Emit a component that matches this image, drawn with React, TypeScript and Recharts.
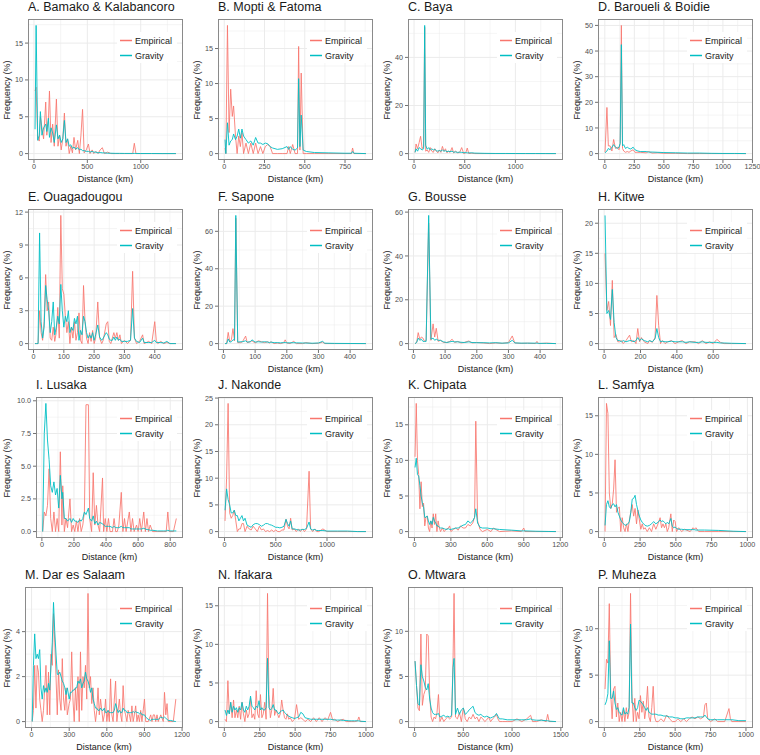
import { LineChart, Line, XAxis, YAxis, CartesianGrid } from "recharts";

// ---- data: distance bins (km) and frequency (%) per site ----
const bamakoKm = [10,20,35,50,60,75,90,110,120,135,145,160,175,190,210,225,240,255,270,285,300,315,330,345,360,375,390,410,425,440,455,470,490,510,525,545,560,580,600,620,640,660,690,720,760,800,850,900,925,940,955,1000,1100,1200,1330];
const bamakoEmp = [8.5,9.0,2.0,1.7,5.0,3.5,2.0,7.0,2.5,4.5,8.5,1.5,4.0,1.0,7.4,1.0,2.5,0.5,2.0,5.5,1.0,2.0,0.0,1.0,0.1,2.2,0.5,1.8,0.0,2.5,6.0,0.1,0.5,1.3,0.0,0.5,0.0,0.3,0.0,0.5,0.8,0.0,0.2,0.0,0.0,0.0,0.0,0.0,0.0,1.4,0.0,0.0,0.0,0.0,0.0];
const bamakoGrav = [3.3,17.4,1.8,2.5,5.7,2.5,3.5,4.0,3.0,4.8,2.2,3.5,2.8,1.5,3.9,2.0,2.5,1.5,2.0,4.5,1.5,2.0,1.0,1.2,0.7,0.9,0.6,0.8,0.5,0.6,0.4,0.4,0.3,0.3,0.2,0.3,0.2,0.2,0.1,0.15,0.1,0.1,0.05,0.05,0.03,0.03,0.02,0.02,0.02,0.02,0.02,0.01,0.01,0.0,0.0];

const moptiKm = [5,10,20,30,40,50,58,70,80,90,100,110,120,135,150,165,180,195,210,225,240,255,270,285,300,330,360,390,400,410,425,440,455,462,470,478,490,510,560,650,750,790,797,805,880];
const moptiEmp = [0.8,0.0,18.3,3.0,9.2,5.3,6.8,2.5,0.0,2.5,1.0,3.0,0.0,1.5,0.0,1.5,0.0,1.5,0.0,1.0,0.0,1.0,1.3,1.0,0.0,0.0,0.0,0.0,1.0,0.0,1.3,0.0,0.0,15.3,0.5,11.5,0.0,0.0,0.0,0.0,0.0,0.0,0.8,0.0,0.0];
const moptiGrav = [2.0,0.0,4.4,1.2,1.8,2.0,2.8,2.0,2.5,3.5,2.2,3.5,2.5,2.0,1.5,1.8,1.2,2.3,1.5,1.5,1.3,1.5,1.4,1.0,0.8,0.6,0.7,1.0,0.6,1.0,0.6,0.5,0.8,10.7,1.0,5.5,0.5,0.3,0.15,0.1,0.05,0.05,0.3,0.05,0.0];

const bayaKm = [10,20,35,50,65,80,95,105,115,130,145,160,175,190,205,220,235,250,265,280,295,310,325,340,355,375,390,410,430,450,470,490,510,525,540,570,600,700,800,900,1000,1100,1200,1300,1400];
const bayaEmp = [0.5,4.0,2.0,4.5,7.2,2.0,3.0,52.5,1.0,1.5,0.5,2.5,1.0,0.5,2.0,1.0,0.3,1.5,0.5,3.0,1.0,2.0,0.3,1.0,0.5,2.5,0.3,1.0,0.3,0.5,2.5,0.0,0.3,2.3,0.0,0.2,0.0,0.0,0.0,0.0,0.0,0.0,0.0,0.0,0.0];
const bayaGrav = [0.5,2.0,1.0,2.5,2.0,1.5,2.0,53.3,3.5,1.8,2.5,1.5,2.0,1.5,1.8,1.2,1.0,1.3,1.0,1.5,1.0,1.2,0.8,1.0,0.8,1.0,0.6,0.7,0.5,0.6,0.5,0.4,0.4,0.3,0.3,0.3,0.2,0.1,0.05,0.05,0.03,0.02,0.02,0.01,0.0];

const baroueliKm = [2,18,30,45,60,75,90,105,120,130,140,150,160,175,190,205,220,240,255,280,300,350,370,400,450,500,600,700,800,900,1000,1100,1195];
const baroueliEmp = [0.5,18.0,3.0,3.0,1.0,5.5,2.0,2.5,1.5,4.0,50.0,2.0,1.0,0.5,0.8,0.5,1.0,1.5,0.5,0.5,0.5,0.3,0.8,0.2,0.3,0.1,0.1,0.0,0.0,0.0,0.0,0.0,0.0];
const baroueliGrav = [0.3,1.0,2.0,1.5,2.5,3.5,2.5,2.0,2.5,4.0,42.5,3.0,3.5,2.0,2.5,2.0,1.8,2.5,1.5,1.0,0.8,0.8,0.6,0.6,0.5,0.4,0.3,0.2,0.2,0.1,0.05,0.05,0.0];

const ouagaKm = [5,10,15,20,25,30,35,40,45,50,55,60,65,70,75,80,85,90,95,100,105,110,115,120,125,130,135,140,145,150,155,160,165,170,175,180,185,190,195,200,205,212,218,225,230,240,245,250,255,260,265,270,275,280,285,290,300,310,320,327,333,340,350,360,365,380,390,400,405,410,420,430,440,450,470];
const ouagaEmp = [0.0,0.0,0.0,3.0,1.0,0.3,2.0,6.3,3.0,3.8,0.5,0.3,1.5,0.2,1.0,3.3,0.5,11.7,5.0,4.5,2.5,1.0,2.0,0.0,1.5,0.5,2.0,0.3,1.0,2.8,0.3,0.0,5.3,2.0,0.5,0.0,1.0,0.2,1.2,0.0,0.5,3.8,0.5,0.0,0.3,1.8,2.0,0.2,0.0,0.5,1.0,0.5,1.0,0.3,0.8,0.0,0.3,0.0,0.3,6.6,0.5,0.0,0.2,0.8,0.0,0.2,0.0,2.0,0.3,0.0,0.2,0.0,0.1,0.0,0.0];
const ouagaGrav = [0.0,0.0,0.0,10.1,2.0,0.5,1.5,5.3,4.0,3.0,1.0,2.0,3.8,0.8,1.5,2.5,1.8,5.4,3.0,1.5,2.5,2.0,3.0,1.0,1.5,1.2,2.3,1.8,2.5,0.3,1.2,0.8,2.5,2.0,1.0,0.5,0.8,0.5,1.0,0.3,0.8,1.7,0.6,0.3,0.5,1.0,0.8,0.4,0.3,0.3,0.6,0.3,0.6,0.3,0.4,0.2,0.2,0.2,0.3,3.2,0.5,0.2,0.1,0.5,0.1,0.1,0.1,0.3,0.1,0.1,0.1,0.05,0.2,0.0,0.0];

const saponeKm = [5,10,15,20,25,30,35,39,45,55,60,70,75,85,90,100,110,120,130,140,145,150,160,170,180,190,195,200,210,222,230,250,260,280,300,313,320,350,400,450];
const saponeEmp = [0,0,6.0,1.0,2.0,8.0,1.5,67,0.5,0.5,1.0,4.0,0.5,1.0,1.5,0.3,1.5,1.0,0.5,1.0,0.3,1.0,0.0,0.3,0.0,0.5,2.0,0.3,0.0,1.2,0.0,0.0,0.5,0.0,0.2,0.8,0.0,0.0,0.0,0.0];
const saponeGrav = [0,0,2.5,0.8,1.0,2.0,2.0,68.5,0.8,1.0,1.0,1.5,0.8,1.0,2.0,0.8,1.0,0.8,1.0,0.8,0.6,0.8,0.5,0.5,0.4,0.5,0.6,0.4,0.4,0.5,0.4,0.3,0.3,0.2,0.3,1.2,0.2,0.1,0.05,0.0];

const bousseKm = [5,10,15,20,25,30,35,40,48,55,62,67,72,78,85,95,105,115,122,130,140,150,160,175,185,200,220,240,260,280,300,312,320,340,360,385,390,395,420,450];
const bousseEmp = [0,0.5,5.0,2.0,3.0,2.5,1.0,1.5,55,1.5,9.0,3.0,7.0,1.0,1.5,0.5,0.5,1.0,2.0,0.5,1.0,0.3,0.5,1.2,0.3,0.5,0.3,0.0,0.3,0.1,0.5,3.5,0.3,0.1,0.2,0.0,1.0,0.0,0.2,0.0];
const bousseGrav = [0,0.5,2.5,1.5,2.0,1.0,1.0,1.0,58.5,2.0,2.5,1.5,2.0,1.5,1.5,0.8,0.5,0.8,1.0,0.8,0.8,0.6,0.5,0.8,0.5,0.4,0.4,0.3,0.4,0.2,0.3,1.5,0.3,0.2,0.2,0.2,0.2,0.1,0.1,0.0];

const kitweKm = [5,15,25,35,45,55,65,75,85,95,105,120,140,150,165,175,185,195,205,220,240,250,265,280,290,300,310,320,335,350,370,390,410,430,450,470,500,520,540,560,580,600,620,640,660,700,780];
const kitweEmp = [15.0,5.5,7.0,3.0,10.5,1.0,1.5,0.3,0.3,0.5,0.0,0.5,1.4,0.3,0.5,0.0,2.5,0.3,1.0,0.3,0.0,0.5,0.2,1.0,8.0,3.0,0.0,0.5,0.0,0.3,0.5,0.0,0.3,0.5,0.0,0.3,0.3,0.0,0.5,0.0,0.3,0.0,0.7,0.2,0.0,0.0,0.0];
const kitweGrav = [21.3,5.0,5.5,4.0,9.0,3.5,1.0,0.5,0.5,0.3,0.5,0.3,0.5,0.5,0.3,0.5,1.0,0.5,0.8,0.5,0.3,0.5,0.3,0.8,2.5,1.0,0.3,0.4,0.3,0.3,0.4,0.3,0.3,0.3,0.2,0.3,0.2,0.2,0.3,0.2,0.2,0.2,0.2,0.1,0.1,0.05,0.0];

const lusakaKm = [5,15,25,35,45,55,65,75,85,95,105,115,125,130,140,150,160,175,185,195,205,215,225,235,245,255,265,275,290,298,310,320,330,340,350,360,378,385,395,405,415,425,440,450,460,470,480,495,505,515,525,545,555,565,575,590,600,610,620,635,645,655,665,675,690,720,760,775,785,795,820,838];
const lusakaEmp = [0.0,1.5,1.2,2.0,4.8,1.0,0.0,1.5,0.0,1.0,0.0,6.1,0.5,3.5,0.0,1.0,0.3,2.5,0.0,0.5,0.0,0.8,0.0,1.0,0.0,0.5,1.5,9.7,9.7,1.0,0.0,4.5,0.5,2.0,0.5,0.0,4.1,0.0,1.0,0.0,1.0,0.0,0.0,1.0,0.0,0.0,0.5,3.0,0.0,1.0,0.0,1.5,0.0,1.0,0.0,0.5,0.0,1.0,0.0,1.5,0.0,1.0,0.0,0.5,0.0,0.0,0.0,0.0,1.5,0.0,0.0,1.0];
const lusakaGrav = [0.0,7.5,9.8,7.0,5.5,3.5,3.0,3.8,2.8,3.3,1.8,4.3,2.5,3.0,1.0,1.0,0.8,1.0,0.7,1.0,0.8,0.8,0.7,0.9,0.8,1.0,1.5,1.3,1.8,1.0,0.8,1.2,0.6,0.8,0.5,0.7,0.6,0.5,0.4,0.4,0.4,0.4,0.3,0.4,0.3,0.3,0.3,0.4,0.3,0.3,0.3,0.3,0.2,0.2,0.2,0.2,0.2,0.2,0.2,0.25,0.2,0.15,0.15,0.1,0.1,0.05,0.05,0.05,0.1,0.05,0.05,0.05];

const nakondeKm = [5,20,35,50,65,80,95,110,125,140,155,170,185,200,220,240,260,280,300,320,340,360,380,400,420,440,460,480,500,520,540,560,580,600,615,630,645,660,680,700,720,740,760,780,800,825,840,860,880,900,920,960,1000,1100,1200,1300,1380];
const nakondeEmp = [2.0,10.0,24.0,3.5,2.5,3.0,4.0,2.0,0.0,0.5,0.5,1.5,1.5,0.0,1.0,0.5,0.3,1.0,0.5,0.0,1.0,0.3,0.5,0.0,0.2,0.0,0.3,0.0,0.3,0.0,0.0,0.3,0.3,2.3,1.0,0.5,2.5,0.3,0.5,0.0,0.5,0.0,0.5,0.0,0.5,11.3,0.5,0.0,0.5,0.0,0.0,0.5,0.0,0.0,0.0,0.0,0.0];
const nakondeGrav = [4.0,8.0,6.0,5.0,3.5,3.5,4.0,3.0,3.0,2.0,2.5,3.0,2.0,2.5,1.2,1.0,0.8,1.3,1.5,1.5,1.3,1.0,1.2,1.5,1.5,1.3,1.2,1.0,0.8,0.8,0.7,0.8,1.0,2.3,1.5,1.0,2.0,0.5,0.5,0.4,0.3,0.3,0.4,0.4,0.6,1.8,0.5,0.3,0.4,0.2,0.2,0.2,0.1,0.1,0.1,0.0,0.0];

const chipataKm = [5,15,25,35,45,55,65,75,85,95,105,115,125,135,145,155,165,175,185,195,205,215,230,245,260,280,290,300,320,340,360,380,400,420,440,460,480,495,505,520,540,560,600,630,650,700,800,880,900,910,1000,1100,1165];
const chipataEmp = [10.5,18.0,10.0,8.0,3.2,7.0,3.5,4.0,0.8,2.0,2.2,0.5,0.0,1.5,0.5,2.5,1.0,2.5,0.0,1.5,0.5,0.0,0.5,0.0,0.3,0.5,0.8,0.0,0.3,0.5,0.2,0.8,0.5,0.5,1.0,0.8,1.2,2.0,15.5,1.5,0.3,0.0,0.3,0.0,0.5,0.0,0.1,0.0,0.5,0.0,0.0,0.0,0.0];
const chipataGrav = [9.0,10.3,8.0,7.8,6.5,5.0,4.0,3.5,2.0,2.0,2.2,1.5,1.0,1.5,1.0,2.0,1.5,1.2,0.8,0.8,0.6,0.5,0.5,0.4,0.3,0.4,0.3,0.3,0.4,0.5,0.5,0.7,0.9,1.0,1.5,1.2,1.5,2.0,3.2,1.2,0.6,0.5,0.5,0.4,0.4,0.3,0.2,0.1,0.1,0.1,0.05,0.02,0.0];

const samfyaKm = [5,15,25,35,45,55,65,75,85,95,105,115,125,135,145,155,165,175,185,195,205,215,225,235,245,255,265,275,285,300,315,330,345,360,375,390,400,410,420,430,440,450,465,475,485,495,505,520,540,560,600,620,630,640,660,700,800,900,990];
const samfyaEmp = [0.0,16.6,15.3,5.0,3.0,3.5,5.5,9.3,2.5,3.0,3.2,0.0,1.8,0.5,0.0,1.0,0.0,1.5,2.5,3.5,2.0,3.0,1.0,2.8,1.5,0.3,1.0,0.3,0.5,0.0,0.5,0.0,1.0,0.3,1.0,1.8,0.5,1.0,0.5,1.0,0.0,0.5,2.3,0.0,1.5,1.3,0.0,0.5,0.0,0.3,0.0,0.5,0.3,0.5,0.0,0.0,0.0,0.0,0.0];
const samfyaGrav = [0.8,3.5,4.0,3.2,3.0,3.5,3.6,3.2,3.5,2.5,2.0,1.5,1.2,1.0,0.8,0.9,1.0,1.3,2.5,4.2,4.3,4.7,3.5,2.7,2.0,1.5,1.2,1.0,0.8,0.7,0.8,1.0,1.3,1.0,1.2,1.5,1.3,1.4,1.2,1.0,1.2,1.0,1.7,0.7,0.5,0.6,0.4,0.3,0.3,0.25,0.25,0.25,0.25,0.2,0.2,0.2,0.15,0.05,0.0];

const darKm = [5,15,25,35,45,55,65,75,85,95,105,115,125,135,145,155,165,175,185,195,205,215,225,235,245,255,265,275,285,300,310,320,330,340,350,360,370,380,390,400,410,420,430,440,450,460,470,480,490,500,510,520,530,540,550,560,570,580,590,600,610,620,630,640,650,660,670,680,690,700,710,720,730,740,750,760,770,780,790,800,810,820,830,840,850,860,870,880,900,910,930,950,960,970,980,990,1000,1010,1030,1050,1060,1070,1080,1090,1110,1130,1150];
const darEmp = [0.0,0.5,2.5,0.6,2.5,2.2,1.0,0.5,0.0,0.5,1.5,2.5,0.3,2.2,0.3,3.0,2.5,4.8,3.5,2.0,0.3,2.3,1.0,0.5,2.8,1.0,0.5,1.5,0.3,0.8,1.0,3.1,1.0,0.0,1.5,0.5,2.0,0.0,3.1,0.5,2.0,1.5,2.5,1.0,5.7,1.5,2.0,0.8,1.5,0.5,0.0,0.5,1.5,0.3,1.0,0.5,0.0,0.3,1.0,0.0,0.5,0.0,1.9,0.3,0.0,1.0,1.8,0.0,0.5,1.0,0.3,0.0,1.6,0.5,0.3,0.0,0.5,0.3,0.0,0.7,0.0,0.3,0.7,0.0,0.3,0.0,0.5,0.0,1.0,0.0,0.0,0.3,0.0,0.3,0.3,0.0,0.3,0.0,0.3,0.0,1.3,0.3,0.8,0.0,0.0,0.0,1.0];
const darGrav = [0.0,2.5,3.9,2.8,3.0,2.8,3.2,1.5,1.0,1.6,1.3,1.5,1.3,1.7,1.4,2.5,3.5,5.3,4.0,3.0,2.1,2.1,2.2,2.0,1.8,1.7,1.5,1.2,1.5,1.0,1.3,1.3,1.4,1.4,1.5,1.5,1.8,1.7,1.9,1.5,1.7,1.8,2.2,1.9,1.8,1.6,1.3,1.5,1.0,0.8,0.6,0.6,0.5,0.5,0.6,0.5,0.5,0.6,0.4,0.4,0.5,0.4,0.4,0.4,0.4,0.5,0.8,0.6,0.4,0.5,0.4,0.4,0.6,0.5,0.5,0.4,0.4,0.4,0.4,0.4,0.45,0.4,0.45,0.4,0.4,0.35,0.4,0.3,0.3,0.2,0.1,0.05,0.1,0.1,0.1,0.1,0.1,0.1,0.2,0.15,0.2,0.15,0.1,0.05,0.05,0.02,0.0];

const ifakaraKm = [5,15,25,35,45,55,65,75,85,95,105,115,125,135,145,155,165,175,185,195,205,215,225,235,245,255,265,275,285,295,305,315,325,335,345,355,365,375,385,395,405,415,425,435,445,455,465,480,495,510,525,540,555,570,590,610,630,650,670,690,710,730,750,765,780,800,820,840,860,880,900,920,940,950,960,1000];
const ifakaraEmp = [0.3,0.0,5.3,1.0,2.5,0.5,2.8,0.5,1.5,0.5,2.0,0.3,2.5,1.0,0.0,1.5,0.5,1.0,3.0,0.5,1.0,0.3,4.0,1.0,0.5,3.5,0.5,1.0,2.5,0.3,16.6,3.5,0.5,1.5,4.3,0.8,1.5,1.0,0.5,1.0,2.8,1.5,0.5,0.3,1.0,0.3,0.5,0.0,0.3,2.2,0.3,0.5,0.3,0.0,0.3,0.0,0.5,0.0,0.5,0.0,0.5,0.2,1.2,0.2,0.3,0.0,0.2,0.3,0.0,0.0,0.0,0.0,0.1,0.6,0.0,0.0];
const ifakaraGrav = [1.5,0.8,1.5,1.0,2.5,1.2,2.0,1.5,1.8,1.2,1.8,1.5,2.5,1.5,1.2,2.0,1.5,2.0,3.3,2.0,1.8,1.5,2.0,1.8,2.7,1.5,1.8,1.5,1.5,1.8,8.2,1.8,1.5,1.7,2.2,1.5,1.5,1.2,1.0,1.3,1.4,1.5,1.2,1.0,0.8,0.7,0.6,0.5,0.4,0.5,0.6,1.2,1.0,0.5,0.4,0.3,0.3,0.3,0.3,0.3,0.3,0.3,0.3,0.25,0.2,0.2,0.2,0.15,0.15,0.1,0.1,0.1,0.1,0.1,0.05,0.0];

const mtwaraKm = [5,20,35,50,65,80,95,110,125,140,155,170,185,200,215,230,245,260,280,300,320,340,360,380,395,405,420,440,460,480,500,520,540,560,580,600,620,640,660,680,700,720,740,760,780,800,820,840,855,870,900,950,1000,1050,1100,1150,1190,1210,1250,1300,1350,1365,1380,1450];
const mtwaraEmp = [6.7,4.0,1.5,1.2,9.7,1.8,3.0,3.5,9.7,9.5,3.0,0.5,0.0,0.5,0.3,1.0,3.0,0.0,0.5,0.0,0.3,0.5,0.3,0.5,7.0,14.2,0.5,0.3,1.0,0.0,1.5,0.3,0.0,0.5,0.3,0.8,0.3,0.5,0.0,0.5,0.3,0.0,0.2,0.5,0.0,0.3,0.5,0.8,0.3,0.0,0.0,0.0,0.0,0.3,0.0,0.3,0.7,0.0,0.0,0.2,0.0,0.8,0.0,0.0];
const mtwaraGrav = [6.7,4.0,2.0,1.8,6.3,5.0,4.5,3.8,3.5,4.2,2.5,1.5,1.0,0.8,0.8,0.8,0.9,0.5,0.6,0.7,0.5,0.6,0.5,0.7,6.0,7.0,0.8,1.5,0.8,1.3,1.5,0.8,1.0,1.3,1.5,1.7,1.0,0.8,0.7,0.8,0.6,0.5,0.6,0.5,0.4,0.5,0.6,0.9,0.6,0.3,0.3,0.2,0.2,0.2,0.2,0.2,0.3,0.2,0.15,0.15,0.1,0.1,0.05,0.0];

const muhezaKm = [5,15,25,35,45,55,65,75,85,95,105,115,125,135,145,155,165,175,185,195,205,215,225,235,245,255,265,275,285,295,305,315,325,335,345,355,365,380,400,420,440,460,480,500,520,540,560,580,600,620,640,660,680,700,710,720,730,750,780,800,850,880,890,900,950,1000];
const muhezaEmp = [3.5,6.7,6.3,12.7,3.0,0.3,3.5,3.8,0.5,2.0,0.0,1.0,0.0,1.3,0.0,1.5,0.3,1.0,13.8,3.0,0.0,2.5,0.0,1.0,0.3,2.8,1.0,2.2,0.3,1.5,3.8,0.5,0.0,1.5,3.8,0.5,0.0,0.0,0.3,0.0,0.7,0.3,0.0,0.0,0.3,0.0,0.3,0.0,0.3,0.5,0.3,0.5,0.3,0.5,1.8,2.0,0.3,0.0,0.3,0.0,0.0,1.4,0.3,0.0,0.0,0.0];
const muhezaGrav = [1.8,2.2,3.0,8.7,2.5,2.5,3.3,2.0,1.3,1.5,1.0,0.8,0.7,1.5,0.8,1.0,0.8,1.5,10.5,2.0,2.0,1.5,1.2,1.5,2.3,2.2,2.0,1.8,1.5,1.2,1.5,1.0,0.9,0.8,0.8,0.8,0.8,0.7,0.7,0.6,0.6,0.5,0.5,0.4,0.4,0.3,0.3,0.4,0.4,0.4,0.4,0.5,0.5,0.5,0.7,0.5,0.3,0.2,0.2,0.2,0.2,0.2,0.2,0.2,0.1,0.1];

// ---- axis breaks ----
const xTicks500 = [0, 500, 1000];
const xTicks250 = [0, 250, 500, 750];
const xTicks250to1250 = [0, 250, 500, 750, 1000, 1250];
const xTicks100 = [0, 100, 200, 300, 400];
const xTicks200to600 = [0, 200, 400, 600];
const xTicks200to800 = [0, 200, 400, 600, 800];
const xTicks300 = [0, 300, 600, 900, 1200];
const xTicks250to1000 = [0, 250, 500, 750, 1000];
const xTicks500to1500 = [0, 500, 1000, 1500];

const yTicks5to15 = [0, 5, 10, 15];
const yTicks20to40 = [0, 20, 40];
const yTicks10to50 = [0, 10, 20, 30, 40, 50];
const yTicks3 = [0, 3, 6, 9, 12];
const yTicks20to60 = [0, 20, 40, 60];
const yTicks5to20 = [0, 5, 10, 15, 20];
const yTicks2p5 = [0, 2.5, 5, 7.5, 10];
const yTicks5to25 = [0, 5, 10, 15, 20, 25];
const yTicks2 = [0, 2, 4];
const yTicks5to10 = [0, 5, 10];

const panels = [
  { title: "A. Bamako & Kalabancoro", km: bamakoKm, emp: bamakoEmp, grav: bamakoGrav, xTicks: xTicks500, yTicks: yTicks5to15 },
  { title: "B. Mopti & Fatoma", km: moptiKm, emp: moptiEmp, grav: moptiGrav, xTicks: xTicks250, yTicks: yTicks5to15 },
  { title: "C. Baya", km: bayaKm, emp: bayaEmp, grav: bayaGrav, xTicks: xTicks500, yTicks: yTicks20to40 },
  { title: "D. Baroueli & Boidie", km: baroueliKm, emp: baroueliEmp, grav: baroueliGrav, xTicks: xTicks250to1250, yTicks: yTicks10to50 },
  { title: "E. Ouagadougou", km: ouagaKm, emp: ouagaEmp, grav: ouagaGrav, xTicks: xTicks100, yTicks: yTicks3 },
  { title: "F. Sapone", km: saponeKm, emp: saponeEmp, grav: saponeGrav, xTicks: xTicks100, yTicks: yTicks20to60 },
  { title: "G. Bousse", km: bousseKm, emp: bousseEmp, grav: bousseGrav, xTicks: xTicks100, yTicks: yTicks20to60 },
  { title: "H. Kitwe", km: kitweKm, emp: kitweEmp, grav: kitweGrav, xTicks: xTicks200to600, yTicks: yTicks5to20 },
  { title: "I. Lusaka", km: lusakaKm, emp: lusakaEmp, grav: lusakaGrav, xTicks: xTicks200to800, yTicks: yTicks2p5, digits: 1 },
  { title: "J. Nakonde", km: nakondeKm, emp: nakondeEmp, grav: nakondeGrav, xTicks: xTicks500, yTicks: yTicks5to25 },
  { title: "K. Chipata", km: chipataKm, emp: chipataEmp, grav: chipataGrav, xTicks: xTicks300, yTicks: yTicks5to15 },
  { title: "L. Samfya", km: samfyaKm, emp: samfyaEmp, grav: samfyaGrav, xTicks: xTicks250to1000, yTicks: yTicks5to15 },
  { title: "M. Dar es Salaam", km: darKm, emp: darEmp, grav: darGrav, xTicks: xTicks300, yTicks: yTicks2 },
  { title: "N. Ifakara", km: ifakaraKm, emp: ifakaraEmp, grav: ifakaraGrav, xTicks: xTicks250to1000, yTicks: yTicks5to15 },
  { title: "O. Mtwara", km: mtwaraKm, emp: mtwaraEmp, grav: mtwaraGrav, xTicks: xTicks500to1500, yTicks: yTicks5to10 },
  { title: "P. Muheza", km: muhezaKm, emp: muhezaEmp, grav: muhezaGrav, xTicks: xTicks250to1000, yTicks: yTicks5to10 },
];

// ---- layout ----
const PANEL_W = 190;
const PANEL_H = 188;
const PLOT_TOP = 20;
const PLOT_H = 141;
const PLOT_RIGHT = 183;
const X_AXIS_H = PANEL_H - PLOT_TOP - PLOT_H;
const COL_X = [0, 190, 380, 570];
const ROW_Y = [-1, 189, 377, 567];
// y-axis widths differ where tick labels are wider / narrower
const PLOT_LEFT: Record<number, number> = { 8: 36, 12: 25 };

const EMP_COLOR = "#F8766D";
const GRAV_COLOR = "#00BFC4";
const FONT = '"Liberation Sans", Arial, Helvetica, sans-serif';
const TEXT = "#1a1a1a";

const expand = (lo: number, hi: number): [number, number] => {
  const r = hi - lo;
  return [lo - 0.05 * r, hi + 0.05 * r];
};

const minorBreaks = (ticks: number[], lo: number, hi: number) => {
  const step = ticks[1] - ticks[0];
  const out: number[] = [];
  if (ticks[0] - step / 2 >= lo) out.push(ticks[0] - step / 2);
  for (let i = 0; i < ticks.length - 1; i++) out.push((ticks[i] + ticks[i + 1]) / 2);
  const last = ticks[ticks.length - 1] + step / 2;
  if (last <= hi) out.push(last);
  return out;
};

const legendItems = [
  { name: "Empirical", color: EMP_COLOR, y: 8.5 },
  { name: "Gravity", color: GRAV_COLOR, y: 23.5 },
];

const Panel = ({ p, idx }: { p: any; idx: number }) => {
  const plotLeft = PLOT_LEFT[idx] ?? 28;
  const data = p.km.map((d: number, i: number) => ({ d, emp: p.emp[i], grav: p.grav[i] }));
  const xDomain = expand(p.km[0], p.km[p.km.length - 1]);
  const yMax = Math.max(...p.emp, ...p.grav);
  const yDomain = expand(0, yMax);
  const xTicks = p.xTicks.filter((t: number) => t >= xDomain[0] && t <= xDomain[1]);
  const yTicks = p.yTicks.filter((t: number) => t >= yDomain[0] && t <= yDomain[1]);
  const xMinor = minorBreaks(xTicks, xDomain[0], xDomain[1]);
  const yMinor = minorBreaks(yTicks, yDomain[0], yDomain[1]);
  const plotW = PLOT_RIGHT - plotLeft;

  return (
    <div
      style={{
        position: "absolute",
        left: COL_X[idx % 4],
        top: ROW_Y[Math.floor(idx / 4)],
        width: PANEL_W,
        height: PANEL_H,
        fontFamily: FONT,
        overflow: "hidden",
      }}
    >
      <LineChart width={PANEL_W} height={PANEL_H} data={data} margin={{ top: PLOT_TOP, right: PANEL_W - PLOT_RIGHT, bottom: 0, left: 0 }}>
        <CartesianGrid stroke="#EBEBEB" strokeWidth={0.5} verticalValues={xMinor} horizontalValues={yMinor} />
        <CartesianGrid stroke="#EBEBEB" strokeWidth={1} verticalValues={xTicks} horizontalValues={yTicks} />
        <XAxis
          dataKey="d"
          type="number"
          domain={xDomain}
          ticks={xTicks}
          allowDataOverflow
          interval={0}
          height={X_AXIS_H}
          axisLine={false}
          tickLine={{ stroke: "#333", strokeWidth: 0.7 }}
          tickSize={3}
          tickMargin={1}
          tick={{ fontSize: 7.2, fill: "#4D4D4D", fontFamily: FONT }}
        />
        <YAxis
          type="number"
          domain={yDomain}
          ticks={yTicks}
          allowDataOverflow
          interval={0}
          width={plotLeft}
          axisLine={false}
          tickLine={{ stroke: "#333", strokeWidth: 0.7 }}
          tickSize={3}
          tickMargin={2}
          tick={{ fontSize: 7.2, fill: "#4D4D4D", fontFamily: FONT }}
          tickFormatter={(v: number) => (p.digits ? v.toFixed(p.digits) : String(v))}
        />
        <Line type="linear" dataKey="emp" stroke={EMP_COLOR} strokeWidth={1} strokeOpacity={0.85} dot={false} isAnimationActive={false} />
        <Line type="linear" dataKey="grav" stroke={GRAV_COLOR} strokeWidth={1} strokeOpacity={0.9} dot={false} isAnimationActive={false} />
      </LineChart>

      {/* panel border */}
      <div
        style={{
          position: "absolute",
          left: plotLeft,
          top: PLOT_TOP,
          width: plotW,
          height: PLOT_H,
          border: "1px solid #8a8a8a",
          boxSizing: "border-box",
          pointerEvents: "none",
        }}
      />

      {/* title */}
      <div style={{ position: "absolute", left: plotLeft, top: 1, fontSize: 12.5, color: TEXT, whiteSpace: "nowrap", lineHeight: "15px" }}>
        {p.title}
      </div>

      {/* y axis title */}
      <div
        style={{
          position: "absolute",
          left: 7,
          top: PLOT_TOP + PLOT_H / 2,
          transform: "translate(-50%, -50%) rotate(-90deg)",
          fontSize: 9,
          whiteSpace: "nowrap",
          color: TEXT,
        }}
      >
        Frequency (%)
      </div>

      {/* x axis title */}
      <div
        style={{
          position: "absolute",
          left: plotLeft + plotW / 2,
          top: PLOT_TOP + PLOT_H + 19,
          transform: "translate(-50%, -50%)",
          fontSize: 9,
          whiteSpace: "nowrap",
          color: TEXT,
        }}
      >
        Distance (km)
      </div>

      {/* legend */}
      <div
        style={{
          position: "absolute",
          left: PLOT_RIGHT - 66,
          top: PLOT_TOP + 13,
          width: 60,
          height: 31,
          background: "#fff",
          fontSize: 9,
          color: TEXT,
        }}
      >
        <svg width={16} height={31} style={{ position: "absolute", left: 1, top: 0 }}>
          {legendItems.map((it) => (
            <line key={it.name} x1={2} x2={14} y1={it.y} y2={it.y} stroke={it.color} strokeWidth={1.5} />
          ))}
        </svg>
        {legendItems.map((it) => (
          <div
            key={it.name}
            style={{ position: "absolute", left: 18, top: it.y, transform: "translateY(-50%)", whiteSpace: "nowrap", lineHeight: "11px" }}
          >
            {it.name}
          </div>
        ))}
      </div>
    </div>
  );
};

export default function App() {
  return (
    <div style={{ position: "absolute", left: 0, top: 0, width: 760, height: 755, background: "#fff" }}>
      {panels.map((p, i) => (
        <Panel key={p.title} p={p} idx={i} />
      ))}
    </div>
  );
}
